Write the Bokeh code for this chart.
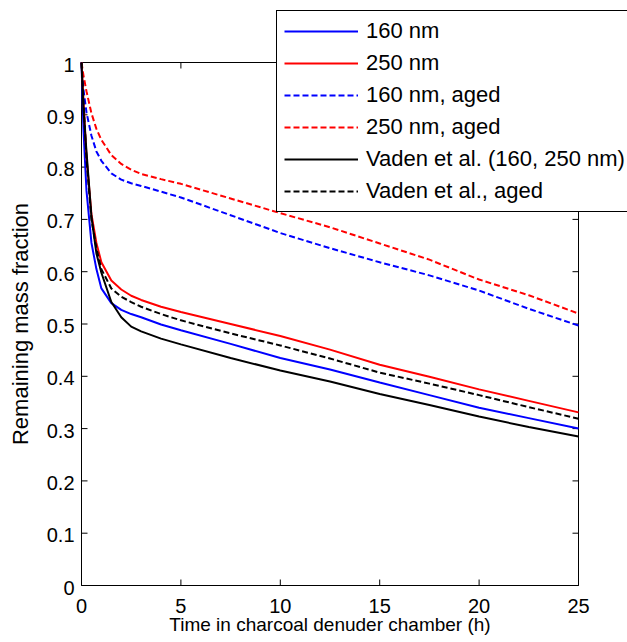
import math
from bokeh.plotting import figure
from bokeh.models import Range1d, Legend, LegendItem, Label
from bokeh.core.properties import value
from bokeh.embed import file_html
from bokeh.resources import INLINE

# ---- data ----
time_h = [0, 0.1, 0.25, 0.5, 0.75, 1, 1.5, 2, 2.5, 3, 4, 5, 7.5, 10, 12.5, 15, 17.5, 20, 22.5, 25]

nm160 = [1.0, 0.87, 0.755, 0.655, 0.605, 0.568, 0.540, 0.527, 0.519, 0.513, 0.499, 0.488,
         0.462, 0.435, 0.413, 0.388, 0.364, 0.340, 0.320, 0.300]
nm250 = [1.0, 0.93, 0.82, 0.71, 0.655, 0.618, 0.583, 0.566, 0.554, 0.546, 0.533, 0.523,
         0.500, 0.477, 0.451, 0.422, 0.399, 0.375, 0.353, 0.331]
nm160_aged = [1.0, 0.948, 0.905, 0.86, 0.83, 0.812, 0.788, 0.776, 0.769, 0.764, 0.753, 0.742,
              0.708, 0.674, 0.645, 0.618, 0.593, 0.564, 0.529, 0.497]
nm250_aged = [1.0, 0.975, 0.945, 0.903, 0.873, 0.852, 0.823, 0.806, 0.795, 0.787, 0.777, 0.768,
              0.740, 0.712, 0.685, 0.654, 0.623, 0.585, 0.555, 0.520]
vaden = [1.0, 0.91, 0.83, 0.705, 0.635, 0.598, 0.542, 0.513, 0.495, 0.486, 0.472, 0.461,
         0.435, 0.411, 0.390, 0.366, 0.345, 0.323, 0.303, 0.285]
vaden_aged = [1.0, 0.925, 0.815, 0.70, 0.645, 0.605, 0.568, 0.552, 0.542, 0.533, 0.519, 0.507,
              0.482, 0.459, 0.434, 0.407, 0.386, 0.364, 0.341, 0.319]

series_labels = ["160 nm", "250 nm", "160 nm, aged", "250 nm, aged",
                 "Vaden et al. (160, 250 nm)", "Vaden et al., aged"]

x_ticks = [0, 5, 10, 15, 20, 25]
x_tick_labels = ["0", "5", "10", "15", "20", "25"]
y_ticks = [0, 0.1, 0.2, 0.3, 0.4, 0.5, 0.6, 0.7, 0.8, 0.9, 1]
y_tick_labels = ["0", "0.1", "0.2", "0.3", "0.4", "0.5", "0.6", "0.7", "0.8", "0.9", "1"]
x_title = "Time in charcoal denuder chamber (h)"
y_title = "Remaining mass fraction"

x_min, x_max = 0, 25
y_min, y_max = 0, 1

# ---- layout geometry (canvas pixels) ----
W, H = 627, 642
BOX_L, BOX_R, BOX_T, BOX_B = 81, 578, 62, 585   # axes box inside the canvas
FONT = "Liberation Sans"

# the plotting frame fills the whole canvas; the axes box is drawn inside it,
# so the legend can overlap the box edge (as in the original) without clipping
x_unit = (x_max - x_min) / (BOX_R - BOX_L)
y_unit = (y_max - y_min) / (BOX_B - BOX_T)
x_range = Range1d(x_min - BOX_L * x_unit, x_max + (W - BOX_R) * x_unit)
y_range = Range1d(y_min - (H - BOX_B) * y_unit, y_max + BOX_T * y_unit)

p = figure(width=W, height=H, x_range=x_range, y_range=y_range,
           output_backend="svg", toolbar_location=None,
           x_axis_location=None, y_axis_location=None,
           min_border_left=0, min_border_right=0, min_border_top=0, min_border_bottom=0)
p.grid.visible = False
p.outline_line_color = None

# axes box
p.quad(left=x_min, right=x_max, bottom=y_min, top=y_max, fill_color=None,
       line_color="black", line_width=1)
# inward tick marks on all four sides
nx, ny = len(x_ticks), len(y_ticks)
tick_kw = dict(length=6, length_units="screen", line_color="black", line_width=1)
p.ray(x=x_ticks, y=[y_min] * nx, angle=math.pi / 2, **tick_kw)
p.ray(x=x_ticks, y=[y_max] * nx, angle=-math.pi / 2, **tick_kw)
p.ray(x=[x_min] * ny, y=y_ticks, angle=0, **tick_kw)
p.ray(x=[x_max] * ny, y=y_ticks, angle=math.pi, **tick_kw)

# tick labels
p.text(x=x_ticks, y=[y_min] * nx, text=x_tick_labels, y_offset=20,
       text_align="center", text_baseline="alphabetic", text_font=value(FONT),
       text_font_size="20px", text_color="black")
p.text(x=[x_min] * ny, y=y_ticks, text=y_tick_labels, x_offset=-7, y_offset=2,
       text_align="right", text_baseline="alphabetic", text_font=value(FONT),
       text_font_size="20px", text_color="black")

# axis titles
p.add_layout(Label(x=(x_min + x_max) / 2, y=y_min, x_units="data", y_units="data",
                   text=x_title, y_offset=-39, text_align="center",
                   text_baseline="alphabetic", text_font=FONT, text_font_size="19px",
                   text_color="black"))
p.add_layout(Label(x=x_min, y=(y_min + y_max) / 2, x_units="data", y_units="data",
                   text=y_title, x_offset=-61, angle=math.pi / 2, text_align="center",
                   text_baseline="alphabetic", text_font=FONT, text_font_size="22px",
                   text_color="black"))

styles = [
    (nm160, "#0000ff", "solid"),
    (nm250, "#ff0000", "solid"),
    (nm160_aged, "#0000ff", "6 3"),
    (nm250_aged, "#ff0000", "6 3"),
    (vaden, "#000000", "solid"),
    (vaden_aged, "#000000", "6 3"),
]
items = []
for (ys, col, dash), lab in zip(styles, series_labels):
    r = p.line(time_h, ys, line_color=col, line_width=2, line_dash=dash)
    items.append(LegendItem(label=lab, renderers=[r]))

legend = Legend(items=items, location=(276, 430), padding=7, spacing=6,
                glyph_width=74, glyph_height=24, label_height=24, label_standoff=8,
                label_text_font=FONT, label_text_font_size="22px", label_text_color="black",
                border_line_color="black", border_line_width=1, border_line_alpha=1,
                background_fill_color="white", background_fill_alpha=1, margin=0)
p.add_layout(legend, "center")

open("out.html", "w").write(file_html(p, INLINE))
